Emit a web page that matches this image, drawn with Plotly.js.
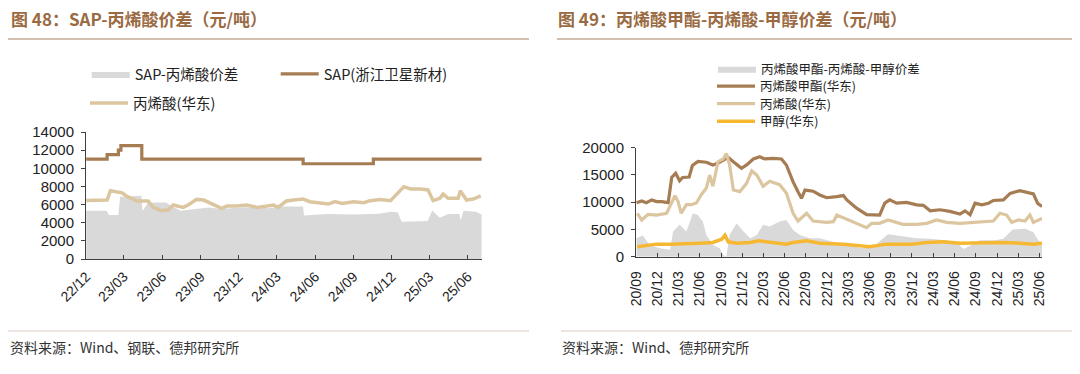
<!DOCTYPE html>
<html>
<head>
<meta charset="utf-8">
<script src="https://cdn.plot.ly/plotly-3.0.1.min.js"></script>
<style>html,body{margin:0;padding:0;background:#fff;}#chart{width:1080px;height:374px;}</style>
</head>
<body>
<div id="chart"></div>
<script>
// ---------- Figure 48: SAP vs acrylic acid ----------
const sapDates = ['2022-12-01','2023-01-20','2023-02-16','2023-02-22','2023-04-13','2024-05-03','2024-10-18','2025-07-04'];
const sapPrice = [11000,11500,12000,12500,11000,10500,11000,11000];

const aaDatesL = ['2022-12-01','2023-01-20','2023-01-28','2023-02-13','2023-02-25','2023-03-07','2023-04-01','2023-04-28','2023-05-10','2023-05-30','2023-06-15','2023-06-27','2023-07-21','2023-08-02','2023-08-22','2023-09-08','2023-10-01','2023-10-21','2023-11-03','2023-11-26','2023-12-20','2024-01-14','2024-02-07','2024-02-22','2024-03-04','2024-03-24','2024-04-10','2024-05-03','2024-05-19','2024-06-13','2024-07-02','2024-07-18','2024-08-04','2024-09-01','2024-09-25','2024-10-10','2024-11-04','2024-11-28','2024-12-14','2024-12-30','2025-01-15','2025-02-08','2025-02-26','2025-03-10','2025-03-26','2025-04-03','2025-04-15','2025-05-09','2025-05-14','2025-05-29','2025-06-14','2025-07-02'];
const aaPriceL = [6450,6500,7530,7420,7300,6950,6390,6390,5690,5320,5400,5950,5690,5950,6570,6500,6060,5580,5840,5840,5950,5690,5840,5950,5690,6390,6500,6610,6320,6210,6060,6320,6130,6320,6210,6430,6570,6430,7240,7970,7720,7720,7610,6430,6690,7160,6690,6690,7530,6500,6610,6950];

const spreadDatesL = ['2022-12-01','2023-01-19','2023-01-24','2023-02-16','2023-02-20','2023-03-15','2023-04-12','2023-04-15','2023-04-28','2023-06-10','2023-06-25','2023-07-15','2023-08-10','2023-09-20','2023-10-20','2023-11-15','2023-12-15','2024-01-10','2024-02-10','2024-03-10','2024-04-25','2024-05-03','2024-05-05','2024-07-01','2024-09-01','2024-11-01','2024-11-28','2024-12-15','2024-12-25','2025-02-25','2025-03-08','2025-03-26','2025-04-15','2025-05-12','2025-05-15','2025-05-22','2025-06-20','2025-07-04'];
const spreadL = [5330,5330,4850,4850,6870,6930,6980,5300,6240,6240,5800,5330,5500,5690,5500,5600,5700,5690,5600,5800,5800,5800,4800,4950,4900,5000,5220,5140,4110,4200,5340,4550,4960,4960,4270,5330,5200,4900];

// ---------- Figure 49: MA vs acrylic acid vs methanol ----------
const maDates = ['2020-09-03','2020-09-25','2020-10-15','2020-11-07','2020-11-28','2020-12-20','2021-01-17','2021-02-01','2021-02-18','2021-03-07','2021-03-20','2021-04-17','2021-05-01','2021-05-25','2021-06-30','2021-07-28','2021-08-18','2021-09-10','2021-10-02','2021-10-24','2021-11-28','2021-12-20','2022-01-18','2022-02-15','2022-03-08','2022-04-13','2022-05-19','2022-06-09','2022-07-08','2022-07-29','2022-08-13','2022-08-28','2022-10-02','2022-10-31','2022-11-29','2023-01-11','2023-02-09','2023-02-24','2023-04-07','2023-05-20','2023-07-15','2023-08-06','2023-08-27','2023-09-26','2023-11-08','2023-12-21','2024-01-19','2024-02-17','2024-03-30','2024-05-12','2024-06-24','2024-07-16','2024-08-07','2024-08-28','2024-09-26','2024-10-25','2024-11-15','2024-12-28','2025-01-26','2025-03-09','2025-04-08','2025-05-06','2025-05-24','2025-06-12'];
const maPrice = [9900,10200,9900,10400,10100,10100,9900,14500,15300,13900,14500,14600,16700,17450,17300,16800,17100,17700,18200,17400,16200,16800,17900,18300,17900,18000,17900,16800,13700,11900,10700,12200,12000,11300,10800,11000,11200,10400,8900,7700,7600,9800,10400,9800,9950,9500,9400,8400,8600,8300,7800,8400,7700,9800,9500,9800,10300,10400,11600,12100,11850,11500,9800,9200];

const aaDatesR = ['2020-09-06','2020-09-25','2020-10-23','2020-11-28','2021-01-10','2021-02-01','2021-02-15','2021-02-28','2021-03-14','2021-04-05','2021-04-26','2021-05-18','2021-06-08','2021-06-30','2021-07-14','2021-07-28','2021-08-19','2021-09-10','2021-09-24','2021-10-08','2021-10-24','2021-11-21','2021-12-20','2022-01-11','2022-02-02','2022-03-01','2022-03-29','2022-05-11','2022-06-09','2022-07-08','2022-07-29','2022-09-04','2022-10-02','2022-11-29','2022-12-28','2023-01-12','2023-02-24','2023-04-21','2023-05-20','2023-06-11','2023-07-15','2023-08-20','2023-09-11','2023-10-23','2023-12-21','2024-02-02','2024-03-16','2024-04-28','2024-06-24','2024-08-20','2024-10-16','2024-11-15','2024-12-13','2025-01-11','2025-02-02','2025-03-02','2025-03-31','2025-04-21','2025-05-06','2025-06-12'];
const aaPriceR = [7950,6720,7760,7630,7950,9840,11170,10150,7950,9530,9530,9840,11360,12590,14960,12900,17400,17900,18900,16790,12220,11910,13440,15710,14960,12900,13810,13200,11670,7950,6540,7950,6540,6290,6420,7630,6900,5810,5320,6110,6110,6720,6420,5930,5930,6110,6720,6290,6110,6290,6540,6540,7950,7630,6290,6720,6540,7630,6290,7020];

const meDates = ['2020-09-06','2020-10-15','2020-11-28','2021-01-25','2021-04-05','2021-06-01','2021-07-28','2021-09-04','2021-09-18','2021-10-02','2021-11-07','2022-01-04','2022-02-08','2022-03-29','2022-06-09','2022-07-08','2022-09-04','2022-10-31','2023-02-09','2023-04-21','2023-06-02','2023-08-13','2023-12-01','2024-02-02','2024-04-14','2024-06-24','2024-09-17','2024-12-13','2025-03-09','2025-05-06','2025-06-12'];
const mePrice = [1830,1990,2300,2300,2480,2480,2600,3210,3940,2720,2480,2600,2900,2600,2300,2600,2900,2480,2300,1990,1810,2300,2300,2600,2720,2480,2600,2600,2480,2300,2480];

const spreadDatesR = ['2020-09-03','2020-09-30','2020-10-28','2020-12-11','2021-01-25','2021-02-07','2021-03-07','2021-04-05','2021-05-03','2021-05-24','2021-06-15','2021-06-30','2021-07-28','2021-08-26','2021-09-10','2021-09-24','2021-10-08','2021-11-07','2021-12-07','2022-01-04','2022-02-02','2022-03-01','2022-03-29','2022-05-11','2022-06-09','2022-07-08','2022-08-06','2022-09-18','2022-10-31','2022-12-13','2023-02-09','2023-03-23','2023-05-06','2023-06-19','2023-07-15','2023-08-20','2023-09-28','2023-11-08','2023-12-21','2024-02-17','2024-04-20','2024-06-11','2024-07-10','2024-08-07','2024-09-17','2024-11-23','2024-12-28','2025-02-06','2025-04-01','2025-05-06','2025-05-27','2025-06-12'];
const spreadR = [3370,3900,2170,1560,1250,4610,5830,4610,7970,7660,6440,3990,2170,1560,340,30,3990,6130,4610,3380,3990,5830,5520,6440,6740,4910,3990,3380,3380,2890,2170,1860,1560,1860,2780,4100,3900,3700,3400,3300,3000,2500,1400,2000,3000,3000,3300,5000,5100,4500,3000,2500];

// ---------- layout helpers ----------
const W = 1080, H = 374;
const fx = x => x / W;
const fy = y => 1 - y / H;
const FONT = 'Liberation Sans, Arial, Noto Sans CJK SC, sans-serif';
const CJK = 'Noto Sans CJK SC, Liberation Sans, sans-serif';
const C_GRAY = '#d9d9d9', C_BROWN = '#a67c52', C_TAN = '#dcc6a0', C_ORANGE = '#f6b833';
const AX = '#404040';

const traces = [
  {x: spreadDatesL, y: spreadL, name: 'SAP-丙烯酸价差', type: 'scatter', mode: 'lines', fill: 'tozeroy',
   fillcolor: C_GRAY, line: {width: 0, color: C_GRAY}, xaxis: 'x', yaxis: 'y', legend: 'legend'},
  {x: sapDates, y: sapPrice, name: 'SAP(浙江卫星新材)', type: 'scatter', mode: 'lines',
   line: {width: 3.2, color: C_BROWN, shape: 'hv'}, xaxis: 'x', yaxis: 'y', legend: 'legend2'},
  {x: aaDatesL, y: aaPriceL, name: '丙烯酸(华东)', type: 'scatter', mode: 'lines',
   line: {width: 3.5, color: C_TAN}, xaxis: 'x', yaxis: 'y', legend: 'legend3'},

  {x: spreadDatesR, y: spreadR, name: '丙烯酸甲酯-丙烯酸-甲醇价差', type: 'scatter', mode: 'lines', fill: 'tozeroy',
   fillcolor: C_GRAY, line: {width: 0, color: C_GRAY}, xaxis: 'x2', yaxis: 'y2', legend: 'legend4'},
  {x: maDates, y: maPrice, name: '丙烯酸甲酯(华东)', type: 'scatter', mode: 'lines',
   line: {width: 3.2, color: C_BROWN}, xaxis: 'x2', yaxis: 'y2', legend: 'legend5'},
  {x: aaDatesR, y: aaPriceR, name: '丙烯酸(华东)', type: 'scatter', mode: 'lines',
   line: {width: 3.2, color: C_TAN}, xaxis: 'x2', yaxis: 'y2', legend: 'legend6'},
  {x: meDates, y: mePrice, name: '甲醇(华东)', type: 'scatter', mode: 'lines',
   line: {width: 3.5, color: C_ORANGE}, xaxis: 'x2', yaxis: 'y2', legend: 'legend7'}
];

function leg(x, y, size) {
  return {x: fx(x), y: fy(y), xanchor: 'left', yanchor: 'middle', bgcolor: 'rgba(0,0,0,0)',
          borderwidth: 0, itemwidth: 38, font: {family: CJK, size: size, color: '#222'}};
}

const axisCommon = {showgrid: false, zeroline: false, showline: true, linecolor: AX, linewidth: 1,
  ticks: 'outside', ticklen: 4, tickcolor: AX, tickfont: {family: FONT, size: 15, color: '#222'}};

const layout = {
  width: W, height: H,
  margin: {l: 0, r: 0, t: 0, b: 0},
  paper_bgcolor: '#fff', plot_bgcolor: 'rgba(0,0,0,0)',
  font: {family: FONT},
  xaxis: Object.assign({}, axisCommon, {domain: [fx(86), fx(482)], type: 'date', anchor: 'y',
    range: ['2022-11-30 12:00', '2025-07-05'], tick0: '2022-12-01', dtick: 'M3', tickformat: '%y/%m',
    ticks: 'inside', tickangle: -45, ticklabelstandoff: 3, tickfont: {family: FONT, size: 14, color: '#222'}}),
  yaxis: Object.assign({}, axisCommon, {domain: [fy(259), fy(132)], anchor: 'x',
    range: [0, 14000], dtick: 2000, tickformat: 'd', ticklabelstandoff: 4}),
  xaxis2: Object.assign({}, axisCommon, {domain: [fx(636), fx(1042)], type: 'date', anchor: 'y2',
    range: ['2020-08-31 12:00', '2025-06-12'], tick0: '2020-09-01', dtick: 'M3', tickformat: '%y/%m',
    ticks: 'inside', tickangle: -90, ticklabelstandoff: 8, tickfont: {family: FONT, size: 14, color: '#222'}}),
  yaxis2: Object.assign({}, axisCommon, {domain: [fy(256.7), fy(147.5)], anchor: 'x2',
    range: [0, 20000], dtick: 5000, tickformat: 'd', ticklabelstandoff: 4}),
  legend: leg(86.7, 74, 14.5),
  legend2: leg(275.7, 74, 14.5),
  legend3: leg(85, 103, 14.5),
  legend4: leg(713, 69, 12.5),
  legend5: leg(712, 86.5, 12.5),
  legend6: leg(712, 104, 12.5),
  legend7: leg(712, 121.5, 12.5),
  showlegend: true,
  annotations: [
    {text: '<b>图 48：SAP-丙烯酸价差（元/吨）</b>', xref: 'paper', yref: 'paper', x: fx(9), y: fy(19),
     xanchor: 'left', yanchor: 'middle', showarrow: false, font: {family: CJK, size: 17, color: '#9a6a42'}},
    {text: '<b>图 49：丙烯酸甲酯-丙烯酸-甲醇价差（元/吨）</b>', xref: 'paper', yref: 'paper', x: fx(556), y: fy(19),
     xanchor: 'left', yanchor: 'middle', showarrow: false, font: {family: CJK, size: 17, color: '#9a6a42'}},
    {text: '资料来源：Wind、钢联、德邦研究所', xref: 'paper', yref: 'paper', x: fx(8), y: fy(347),
     xanchor: 'left', yanchor: 'middle', showarrow: false, font: {family: CJK, size: 14, color: '#333'}},
    {text: '资料来源：Wind、德邦研究所', xref: 'paper', yref: 'paper', x: fx(560), y: fy(347),
     xanchor: 'left', yanchor: 'middle', showarrow: false, font: {family: CJK, size: 14, color: '#333'}}
  ],
  shapes: [
    {type: 'line', xref: 'paper', yref: 'paper', x0: fx(8), x1: fx(529), y0: fy(39), y1: fy(39), line: {color: '#a98060', width: 1}},
    {type: 'line', xref: 'paper', yref: 'paper', x0: fx(557), x1: fx(1072), y0: fy(39), y1: fy(39), line: {color: '#a98060', width: 1}},
    {type: 'line', xref: 'paper', yref: 'paper', x0: fx(8), x1: fx(529), y0: fy(331), y1: fy(331), line: {color: '#e8dcd6', width: 1.5}},
    {type: 'line', xref: 'paper', yref: 'paper', x0: fx(561), x1: fx(1072), y0: fy(331), y1: fy(331), line: {color: '#e8dcd6', width: 1.5}}
  ]
};

Plotly.newPlot('chart', traces, layout, {staticPlot: true, displayModeBar: false});
</script>
</body>
</html>
